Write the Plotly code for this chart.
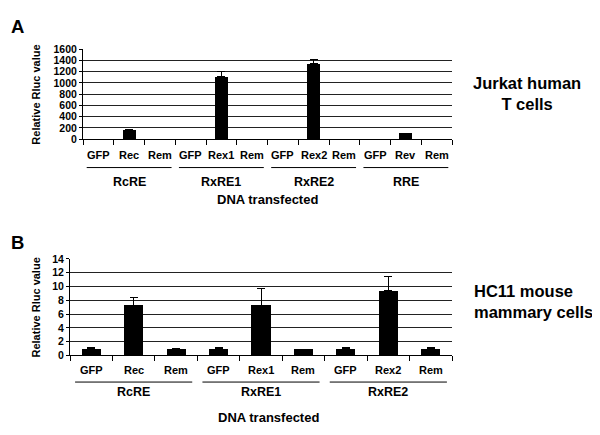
import plotly.graph_objects as go

# ---- Data ----
cats_A = ["GFP", "Rec", "Rem", "GFP", "Rex1", "Rem", "GFP", "Rex2", "Rem", "GFP", "Rev", "Rem"]
vals_A = [0, 156, 0, 0, 1110, 0, 0, 1340, 0, 0, 99, 0]
err_A = [None, 15, None, None, 97, None, None, 75, None, None, None, None]
groups_A = ["RcRE", "RxRE1", "RxRE2", "RRE"]

cats_B = ["GFP", "Rec", "Rem", "GFP", "Rex1", "Rem", "GFP", "Rex2", "Rem"]
vals_B = [1.0, 7.3, 0.9, 1.0, 7.3, 0.9, 1.0, 9.35, 1.0]
err_B = [0.15, 1.15, 0.05, 0.2, 2.45, None, 0.1, 2.15, 0.15]
groups_B = ["RcRE", "RxRE1", "RxRE2"]

# page has an 8px body margin: the figure fills the rest of the 600x435 window
M = 8
W, H = 600 - M, 435 - M
FONT = "Liberation Sans, Arial, sans-serif"

def py(y):  # window pixel y -> paper
    return 1 - (y - M) / H

def px(x):
    return (x - M) / W

fig = go.Figure()

fig.add_trace(go.Bar(
    x=list(range(len(cats_A))), y=vals_A, xaxis="x", yaxis="y",
    marker=dict(color="black", line=dict(width=0)), width=0.43,
    error_y=dict(type="data", array=err_A, arrayminus=[0] * len(err_A), symmetric=False,
                 color="black", thickness=1, width=4),
    showlegend=False,
))
fig.add_trace(go.Bar(
    x=list(range(len(cats_B))), y=vals_B, xaxis="x2", yaxis="y2",
    marker=dict(color="black", line=dict(width=0)), width=0.45,
    error_y=dict(type="data", array=err_B, arrayminus=[0] * len(err_B), symmetric=False,
                 color="black", thickness=1, width=4),
    showlegend=False,
))

xtickfont = dict(family=FONT, size=11, color="black", weight="bold")
ytickfont = dict(family=FONT, size=10.5, color="black", weight="bold")

def xaxis_cfg(n, domain, anchor):
    return dict(
        domain=domain, anchor=anchor, range=[-0.5, n - 0.5],
        tickmode="array", tickvals=[i - 0.5 for i in range(n + 1)], showticklabels=False,
        ticks="outside", ticklen=5, tickcolor="black", tickwidth=1,
        showline=True, linecolor="black", linewidth=1,
        showgrid=False, zeroline=False, fixedrange=True,
    )

def yaxis_cfg(domain, anchor, rng, dtick):
    return dict(
        domain=domain, anchor=anchor, range=rng, dtick=dtick,
        ticks="outside", ticklen=3, tickcolor="black",
        showline=True, linecolor="black", linewidth=1,
        showgrid=True, gridcolor="#222", gridwidth=1, zeroline=False,
        tickfont=ytickfont, fixedrange=True,
    )

fig.update_layout(
    width=W, height=H, margin=dict(l=0, r=0, t=0, b=0),
    paper_bgcolor="white", plot_bgcolor="white", bargap=0,
    xaxis=xaxis_cfg(len(cats_A), [px(83), px(452)], "y"),
    yaxis=yaxis_cfg([py(136.7), py(44.3)], "x", [0, 1600], 200),
    xaxis2=xaxis_cfg(len(cats_B), [px(70), px(452)], "y2"),
    yaxis2=yaxis_cfg([py(359.3), py(260)], "x2", [0, 14], 2),
)

ann = []
shapes = []
gfont = dict(family=FONT, size=12.5, color="black", weight="bold")
dfont = dict(family=FONT, size=13, color="black", weight="bold")

def add_cats(cats, xref, ylabel):
    for i, c in enumerate(cats):
        ann.append(dict(text=c, xref=xref, yref="paper", x=i, y=py(ylabel),
                        showarrow=False, font=xtickfont, xanchor="center", yanchor="middle"))

def add_groups(groups, xref, yline, ylabel):
    for g, name in enumerate(groups):
        shapes.append(dict(type="line", xref=xref, yref="paper",
                           x0=g * 3 - 0.38, x1=g * 3 + 2.38, y0=py(yline), y1=py(yline),
                           line=dict(color="black", width=1)))
        ann.append(dict(text=name, xref=xref, yref="paper", x=g * 3 + 1, y=py(ylabel),
                        showarrow=False, font=gfont, xanchor="center", yanchor="middle"))

add_cats(cats_A, "x", 153.5)
add_cats(cats_B, "x2", 374.5)
add_groups(groups_A, "x", 166, 180.5)
add_groups(groups_B, "x2", 386.7, 397)

ann.append(dict(text="DNA transfected", xref="paper", yref="paper", x=px(267), y=py(198.5),
                showarrow=False, font=dfont, xanchor="center", yanchor="middle"))
ann.append(dict(text="DNA transfected", xref="paper", yref="paper", x=px(268), y=py(423),
                showarrow=False, font=dfont, xanchor="center", yanchor="middle"))

yt_font = dict(family=FONT, size=11, color="black", weight="bold")
ann.append(dict(text="Relative Rluc value", xref="paper", yref="paper", x=px(36), y=py(91),
                textangle=-90, showarrow=False, font=yt_font, xanchor="center", yanchor="middle"))
ann.append(dict(text="Relative Rluc value", xref="paper", yref="paper", x=px(36), y=py(310),
                textangle=-90, showarrow=False, font=yt_font, xanchor="center", yanchor="middle"))

pfont = dict(family=FONT, size=18.5, color="black", weight="bold")
ann.append(dict(text="A", xref="paper", yref="paper", x=px(9), y=py(21),
                showarrow=False, font=pfont, xanchor="left", yanchor="middle"))
ann.append(dict(text="B", xref="paper", yref="paper", x=px(9), y=py(243),
                showarrow=False, font=pfont, xanchor="left", yanchor="middle"))

rfont = dict(family=FONT, size=16.5, color="black", weight="bold")
ann.append(dict(text="Jurkat human<br>T cells", xref="paper", yref="paper", x=px(527), y=py(90),
                showarrow=False, font=rfont, xanchor="center", yanchor="middle", align="center"))
ann.append(dict(text="HC11 mouse<br>mammary cells", xref="paper", yref="paper", x=px(472), y=py(304),
                showarrow=False, font=rfont, xanchor="left", yanchor="middle", align="left"))

fig.update_layout(annotations=ann, shapes=shapes)
fig.write_html("out.html")
